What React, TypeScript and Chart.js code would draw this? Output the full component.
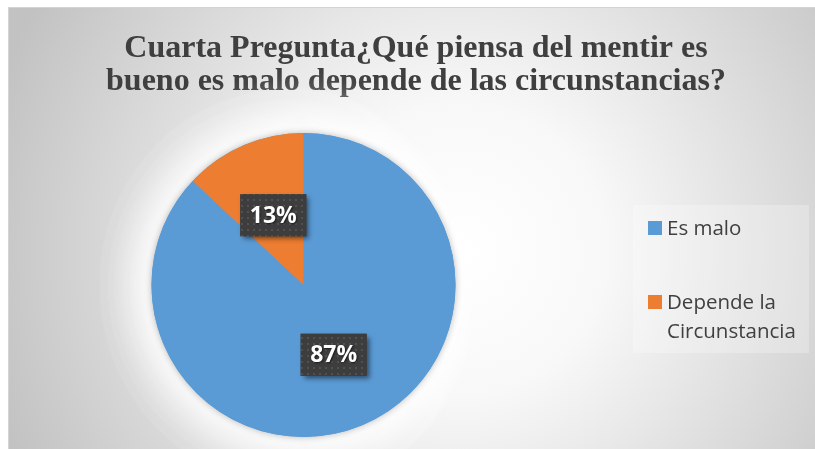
import React, { useEffect, useRef } from "react";
import { Chart, registerables } from "chart.js";

Chart.register(...registerables);

const categories = ["Es malo", "Depende la Circunstancia"];
const legendLines = [["Es malo"], ["Depende la", "Circunstancia"]];
const values = [87, 13];
const percentLabels = ["87%", "13%"];
const colors = ["#5B9BD5", "#ED7D31"];
const titleLines = [
  "Cuarta Pregunta¿Qué piensa del mentir es",
  "bueno es malo depende de las circunstancias?",
];

const W = 815;
const H = 449;

function makePattern(ctx: CanvasRenderingContext2D) {
  const c = document.createElement("canvas");
  c.width = 6;
  c.height = 6;
  const p = c.getContext("2d")!;
  p.fillStyle = "#3d3d3d";
  p.fillRect(0, 0, 6, 6);
  p.fillStyle = "#585858";
  p.beginPath();
  p.arc(2, 2, 1, 0, Math.PI * 2);
  p.fill();
  return ctx.createPattern(c, "repeat")!;
}

const backgroundPlugin = {
  id: "bgDecor",
  beforeDraw(chart: any) {
    const ctx: CanvasRenderingContext2D = chart.ctx;
    ctx.save();
    ctx.fillStyle = "#ffffff";
    ctx.fillRect(0, 0, W, H);
    const g = ctx.createRadialGradient(460, 250, 0, 460, 250, 490);
    g.addColorStop(0, "#ffffff");
    g.addColorStop(0.3, "#f8f8f8");
    g.addColorStop(1, "#c2c2c2");
    ctx.fillStyle = g;
    ctx.fillRect(8, 7, W - 8, H - 7);
    ctx.strokeStyle = "#d4d4d4";
    ctx.lineWidth = 1;
    ctx.strokeRect(8.5, 7.5, W, H);
    // legend box
    ctx.fillStyle = "rgba(255,255,255,0.25)";
    ctx.fillRect(633, 205, 176, 148);
    // title
    ctx.fillStyle = "#3f3f3f";
    ctx.font = "bold 32px 'Liberation Serif', 'Times New Roman', serif";
    ctx.textAlign = "center";
    ctx.textBaseline = "alphabetic";
    ctx.fillText(titleLines[0], 416, 57);
    ctx.fillText(titleLines[1], 416, 90);
    ctx.restore();
  },
  beforeDatasetsDraw(chart: any) {
    const ctx: CanvasRenderingContext2D = chart.ctx;
    const arc = chart.getDatasetMeta(0).data[0];
    if (!arc) return;
    const { x, y, outerRadius } = arc.getProps(["x", "y", "outerRadius"], true);
    ctx.save();
    ctx.fillStyle = "#ffffff";
    ctx.shadowColor = "rgba(255,255,255,1)";
    ctx.shadowBlur = 60;
    for (let i = 0; i < 3; i++) {
      ctx.beginPath();
      ctx.arc(x, y, outerRadius, 0, Math.PI * 2);
      ctx.fill();
    }
    ctx.shadowColor = "rgba(0,0,0,0.28)";
    ctx.shadowBlur = 7;
    ctx.fillStyle = colors[0];
    ctx.beginPath();
    ctx.arc(x, y, outerRadius, 0, Math.PI * 2);
    ctx.fill();
    ctx.restore();
  },
  afterDatasetsDraw(chart: any) {
    const ctx: CanvasRenderingContext2D = chart.ctx;
    const meta = chart.getDatasetMeta(0);
    const pattern = makePattern(ctx);
    ctx.save();
    ctx.font = "bold 23px 'Open Sans', sans-serif";
    meta.data.forEach((arc: any, i: number) => {
      const { x, y, startAngle, endAngle, outerRadius } = arc.getProps(
        ["x", "y", "startAngle", "endAngle", "outerRadius"],
        true
      );
      const mid = (startAngle + endAngle) / 2;
      const cx = x + Math.cos(mid) * outerRadius * 0.5;
      const cy = y + Math.sin(mid) * outerRadius * 0.5;
      const text = percentLabels[i];
      const tw = ctx.measureText(text).width;
      const bw = tw + 19;
      const bh = 42;
      ctx.save();
      ctx.shadowColor = "rgba(0,0,0,0.5)";
      ctx.shadowBlur = 5;
      ctx.shadowOffsetX = 3;
      ctx.shadowOffsetY = 3;
      ctx.fillStyle = "#3d3d3d";
      ctx.fillRect(cx - bw / 2, cy - bh / 2, bw, bh);
      ctx.restore();
      ctx.fillStyle = pattern;
      ctx.fillRect(cx - bw / 2, cy - bh / 2, bw, bh);
      ctx.save();
      ctx.shadowColor = "rgba(0,0,0,0.6)";
      ctx.shadowBlur = 2;
      ctx.shadowOffsetX = 1;
      ctx.shadowOffsetY = 1;
      ctx.fillStyle = "#ffffff";
      ctx.textAlign = "center";
      ctx.textBaseline = "middle";
      ctx.fillText(text, cx, cy + 1);
      ctx.restore();
    });
    ctx.restore();
  },
  afterDraw(chart: any) {
    const ctx: CanvasRenderingContext2D = chart.ctx;
    ctx.save();
    ctx.font = "20.5px 'Open Sans', sans-serif";
    ctx.textAlign = "left";
    ctx.textBaseline = "alphabetic";
    const markerTops = [221, 295];
    legendLines.forEach((lines, i) => {
      const top = markerTops[i];
      ctx.fillStyle = colors[i];
      ctx.fillRect(648, top, 14, 14);
      ctx.fillStyle = "#404040";
      lines.forEach((ln, j) => {
        ctx.fillText(ln, 667, top + 14 + j * 29);
      });
    });
    ctx.restore();
  },
};

export default function App() {
  const ref = useRef<HTMLCanvasElement | null>(null);
  useEffect(() => {
    if (!ref.current) return;
    const chart = new Chart(ref.current, {
      type: "pie",
      data: {
        labels: categories,
        datasets: [
          {
            data: values,
            backgroundColor: colors,
            borderWidth: 0,
          },
        ],
      },
      options: {
        responsive: false,
        animation: false,
        layout: { padding: { top: 133, bottom: 12, left: 151, right: 359 } },
        plugins: {
          legend: { display: false },
          title: { display: false },
          tooltip: { enabled: false },
        },
      },
      plugins: [backgroundPlugin],
    });
    return () => chart.destroy();
  }, []);
  return (
    <div style={{ position: "absolute", left: 0, top: 0, width: W, height: H }}>
      <canvas ref={ref} width={W} height={H} style={{ width: W, height: H, display: "block" }} />
    </div>
  );
}
